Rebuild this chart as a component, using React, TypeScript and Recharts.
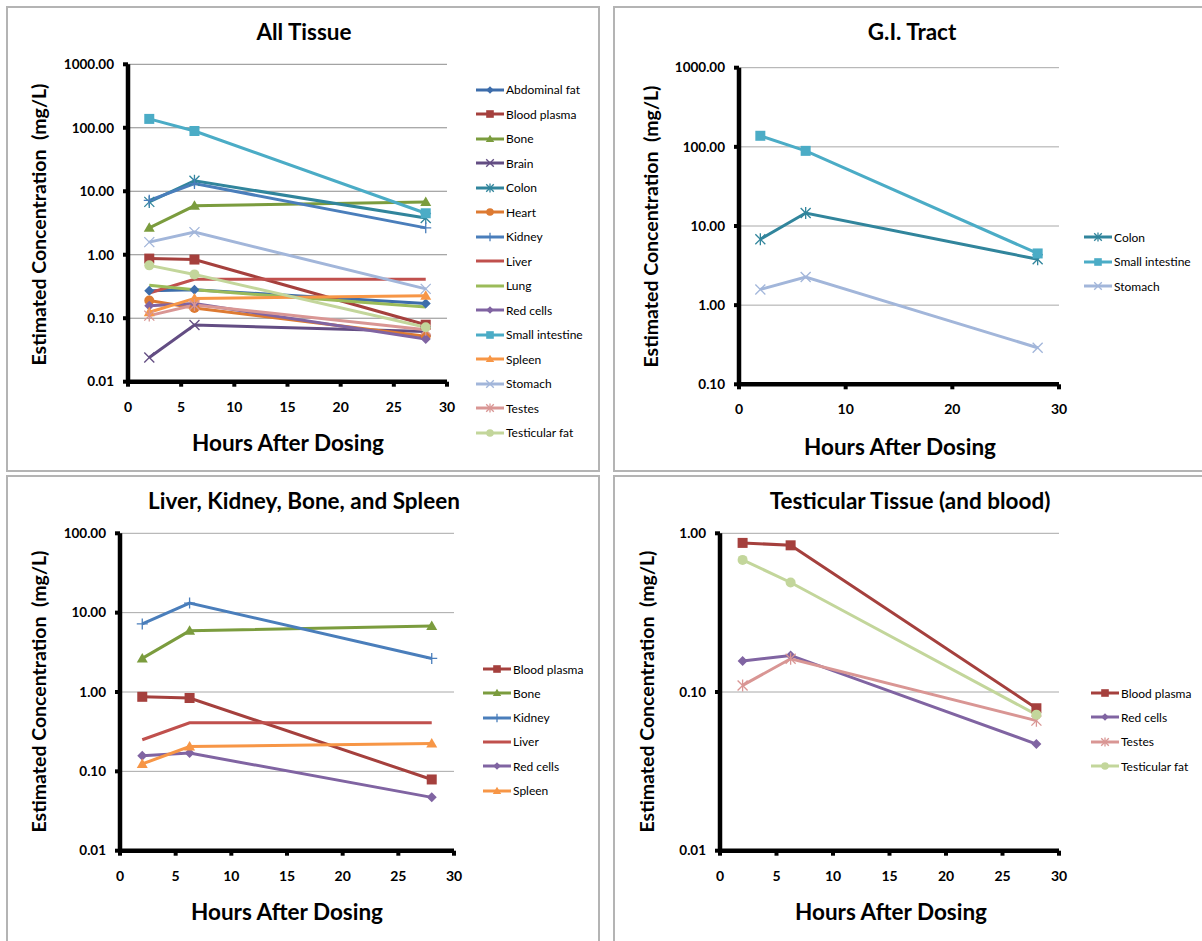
import React from "react";
import { LineChart, Line, XAxis, YAxis, CartesianGrid } from "recharts";

// sampling times (hours after dosing)
const HOURS = [2, 6.25, 28];

// estimated concentrations (mg/L) at each sampling time
const ABDOMINAL_FAT = [0.27, 0.28, 0.17];
const BLOOD_PLASMA = [0.87, 0.84, 0.079];
const BONE = [2.65, 5.9, 6.8];
const BRAIN = [0.024, 0.078, 0.062];
const COLON = [6.8, 14.6, 3.8];
const HEART = [0.19, 0.145, 0.052];
const KIDNEY = [7.2, 13.2, 2.65];
const LIVER = [0.25, 0.41, 0.41];
const LUNG = [0.33, 0.28, 0.15];
const RED_CELLS = [0.157, 0.17, 0.047];
const SMALL_INTESTINE = [138, 89, 4.5];
const SPLEEN = [0.124, 0.205, 0.225];
const STOMACH = [1.58, 2.27, 0.29];
const TESTES = [0.11, 0.162, 0.066];
const TESTICULAR_FAT = [0.68, 0.49, 0.072];

const X_TICKS_5 = [0, 5, 10, 15, 20, 25, 30];
const X_TICKS_10 = [0, 10, 20, 30];
const Y_TICKS_ALL = [0.01, 0.1, 1, 10, 100, 1000];
const Y_TICKS_GI = [0.1, 1, 10, 100, 1000];
const Y_TICKS_LIVER = [0.01, 0.1, 1, 10, 100];
const Y_TICKS_TEST = [0.01, 0.1, 1];

type Marker = "diamond" | "square" | "triangle" | "x" | "star" | "circle" | "plus" | "none";
type Series = { key: string; name: string; color: string; marker: Marker };

const S: Record<string, Series> = {
  abdominalFat: { key: "abdominalFat", name: "Abdominal fat", color: "#3d6dab", marker: "diamond" },
  bloodPlasma: { key: "bloodPlasma", name: "Blood plasma", color: "#a5403d", marker: "square" },
  bone: { key: "bone", name: "Bone", color: "#7b9c3e", marker: "triangle" },
  brain: { key: "brain", name: "Brain", color: "#634d83", marker: "x" },
  colon: { key: "colon", name: "Colon", color: "#31859c", marker: "star" },
  heart: { key: "heart", name: "Heart", color: "#dd7a32", marker: "circle" },
  kidney: { key: "kidney", name: "Kidney", color: "#4a7ebb", marker: "plus" },
  liver: { key: "liver", name: "Liver", color: "#c0504d", marker: "none" },
  lung: { key: "lung", name: "Lung", color: "#9bbb59", marker: "none" },
  redCells: { key: "redCells", name: "Red cells", color: "#8064a2", marker: "diamond" },
  smallIntestine: { key: "smallIntestine", name: "Small intestine", color: "#4bacc6", marker: "square" },
  spleen: { key: "spleen", name: "Spleen", color: "#f79646", marker: "triangle" },
  stomach: { key: "stomach", name: "Stomach", color: "#a2b6da", marker: "x" },
  testes: { key: "testes", name: "Testes", color: "#d99694", marker: "star" },
  testicularFat: { key: "testicularFat", name: "Testicular fat", color: "#c3d69b", marker: "circle" },
};

const rows = HOURS.map((hours, i) => ({
  hours,
  abdominalFat: ABDOMINAL_FAT[i],
  bloodPlasma: BLOOD_PLASMA[i],
  bone: BONE[i],
  brain: BRAIN[i],
  colon: COLON[i],
  heart: HEART[i],
  kidney: KIDNEY[i],
  liver: LIVER[i],
  lung: LUNG[i],
  redCells: RED_CELLS[i],
  smallIntestine: SMALL_INTESTINE[i],
  spleen: SPLEEN[i],
  stomach: STOMACH[i],
  testes: TESTES[i],
  testicularFat: TESTICULAR_FAT[i],
}));

const FONT = "Lato, 'Open Sans', sans-serif";

function MarkerShape({ kind, color, cx, cy, s = 5 }: { kind: Marker; color: string; cx: number; cy: number; s?: number }) {
  switch (kind) {
    case "diamond":
      return <path d={`M${cx},${cy - s} L${cx + s},${cy} L${cx},${cy + s} L${cx - s},${cy} Z`} fill={color} />;
    case "square":
      return <rect x={cx - s} y={cy - s} width={s * 2} height={s * 2} fill={color} />;
    case "triangle":
      return <path d={`M${cx},${cy - s * 1.1} L${cx + s * 1.1},${cy + s * 0.8} L${cx - s * 1.1},${cy + s * 0.8} Z`} fill={color} />;
    case "circle":
      return <circle cx={cx} cy={cy} r={s} fill={color} />;
    case "x":
      return (
        <g stroke={color} strokeWidth={1.3}>
          <line x1={cx - s} y1={cy - s} x2={cx + s} y2={cy + s} />
          <line x1={cx - s} y1={cy + s} x2={cx + s} y2={cy - s} />
        </g>
      );
    case "star":
      return (
        <g stroke={color} strokeWidth={1.3}>
          <line x1={cx - s} y1={cy - s} x2={cx + s} y2={cy + s} />
          <line x1={cx - s} y1={cy + s} x2={cx + s} y2={cy - s} />
          <line x1={cx} y1={cy - s * 1.2} x2={cx} y2={cy + s * 1.2} />
        </g>
      );
    case "plus":
      return (
        <g stroke={color} strokeWidth={1.3}>
          <line x1={cx - s * 1.1} y1={cy} x2={cx + s * 1.1} y2={cy} />
          <line x1={cx} y1={cy - s * 1.1} x2={cx} y2={cy + s * 1.1} />
        </g>
      );
    default:
      return null;
  }
}

type PanelProps = {
  box: { x: number; y: number; w: number; h: number };
  plot: { l: number; r: number; t: number; b: number };
  title: string;
  titleX: number;
  series: Series[];
  yDomain: [number, number];
  yTicks: number[];
  xTicks: number[];
  legend: { x: number; y: number; gap: number };
  xLabel: { x: number; y: number };
  yLabel: { x: number; y: number };
  grid: string;
};

const YAXIS_W = 60;
const XAXIS_H = 30;

function Panel(p: PanelProps) {
  const { box, plot } = p;
  const margin = {
    top: plot.t - box.y,
    bottom: box.y + box.h - plot.b - XAXIS_H,
    left: plot.l - box.x - YAXIS_W,
    right: box.x + box.w - plot.r,
  };
  return (
    <>
      <div
        style={{
          position: "absolute",
          left: box.x - 1,
          top: box.y - 1,
          width: box.w,
          height: box.h,
          border: "2px solid #b4b4b4",
          boxSizing: "border-box",
        }}
      />
      <div
        style={{
          position: "absolute",
          left: p.titleX - 250,
          width: 500,
          top: box.y + 11,
          textAlign: "center",
          fontFamily: FONT,
          fontWeight: 700,
          fontSize: 22.5,
          color: "#000",
        }}
      >
        {p.title}
      </div>
      <div style={{ position: "absolute", left: box.x, top: box.y }}>
        <LineChart width={box.w} height={box.h} data={rows} margin={margin}>
          <CartesianGrid vertical={false} stroke={p.grid} strokeWidth={1} />
          <XAxis
            type="number"
            dataKey="hours"
            domain={[0, 30]}
            ticks={p.xTicks}
            allowDataOverflow
            height={XAXIS_H}
            axisLine={{ stroke: "#000", strokeWidth: 4.5 }}
            tickLine={{ stroke: "#000", strokeWidth: 4 }}
            tickSize={5}
            tickMargin={15}
            tick={{ fill: "#000", fontSize: 14, fontWeight: 700, fontFamily: FONT }}
          />
          <YAxis
            type="number"
            scale="log"
            domain={p.yDomain}
            ticks={p.yTicks}
            allowDataOverflow
            width={YAXIS_W}
            axisLine={{ stroke: "#000", strokeWidth: 4.5 }}
            tickLine={{ stroke: "#000", strokeWidth: 4 }}
            tickSize={5}
            tickMargin={9}
            tickFormatter={(v: number) => v.toFixed(2)}
            tick={{ fill: "#000", fontSize: 13.5, fontWeight: 700, fontFamily: FONT }}
          />
          {p.series.map((s) => (
            <Line
              key={s.key}
              dataKey={s.key}
              name={s.name}
              type="linear"
              stroke={s.color}
              strokeWidth={3}
              isAnimationActive={false}
              activeDot={false}
              dot={
                s.marker === "none"
                  ? false
                  : (d: any) => <MarkerShape key={`${s.key}-${d.index}`} kind={s.marker} color={s.color} cx={d.cx} cy={d.cy} />
              }
            />
          ))}
        </LineChart>
      </div>
      <div
        style={{
          position: "absolute",
          left: p.xLabel.x - 200,
          width: 400,
          top: p.xLabel.y - 14,
          textAlign: "center",
          fontFamily: FONT,
          fontWeight: 700,
          fontSize: 22.5,
          color: "#000",
        }}
      >
        Hours After Dosing
      </div>
      <div
        style={{
          position: "absolute",
          left: p.yLabel.x - 200,
          top: p.yLabel.y - 12,
          width: 400,
          textAlign: "center",
          transform: "rotate(-90deg)",
          fontFamily: FONT,
          fontWeight: 700,
          fontSize: 19.5,
          color: "#000",
          whiteSpace: "nowrap",
        }}
      >
        Estimated Concentration &nbsp;(mg/L)
      </div>
      {p.series.map((s, i) => (
        <div
          key={s.key}
          style={{
            position: "absolute",
            left: p.legend.x,
            top: p.legend.y + i * p.legend.gap - 8,
            height: 16,
            display: "flex",
            alignItems: "center",
            fontFamily: FONT,
            fontSize: 12,
            color: "#000",
            whiteSpace: "nowrap",
          }}
        >
          <svg width={30} height={16} style={{ display: "block" }}>
            <line x1={0} y1={8} x2={28} y2={8} stroke={s.color} strokeWidth={3} />
            <MarkerShape kind={s.marker} color={s.color} cx={14} cy={8} s={3.8} />
          </svg>
          <span>{s.name}</span>
        </div>
      ))}
    </>
  );
}

export default function App() {
  return (
    <div
      style={{
        position: "absolute",
        left: 0,
        top: 0,
        width: 1202,
        height: 941,
        overflow: "hidden",
        background: "#fff",
      }}
    >
      <Panel
        box={{ x: 7, y: 7, w: 594, h: 466 }}
        plot={{ l: 128, r: 447, t: 64.3, b: 381.7 }}
        title="All Tissue"
        titleX={304}
        series={Object.values(S)}
        yDomain={[0.01, 1000]}
        yTicks={Y_TICKS_ALL}
        xTicks={X_TICKS_5}
        legend={{ x: 476, y: 89.5, gap: 24.5 }}
        xLabel={{ x: 288, y: 443 }}
        yLabel={{ x: 38, y: 225 }}
        grid="#8c8c8c"
      />
      <Panel
        box={{ x: 614, y: 7, w: 600, h: 466 }}
        plot={{ l: 739, r: 1059, t: 67.7, b: 384.3 }}
        title="G.I. Tract"
        titleX={912}
        series={[S.colon, S.smallIntestine, S.stomach]}
        yDomain={[0.1, 1000]}
        yTicks={Y_TICKS_GI}
        xTicks={X_TICKS_10}
        legend={{ x: 1084, y: 237, gap: 24.5 }}
        xLabel={{ x: 900, y: 447 }}
        yLabel={{ x: 650, y: 227 }}
        grid="#a8a8a8"
      />
      <Panel
        box={{ x: 7, y: 476, w: 594, h: 475 }}
        plot={{ l: 120, r: 454, t: 533.3, b: 850.7 }}
        title="Liver, Kidney, Bone, and Spleen"
        titleX={304}
        series={[S.bloodPlasma, S.bone, S.kidney, S.liver, S.redCells, S.spleen]}
        yDomain={[0.01, 100]}
        yTicks={Y_TICKS_LIVER}
        xTicks={X_TICKS_5}
        legend={{ x: 483, y: 669, gap: 24.3 }}
        xLabel={{ x: 287, y: 912 }}
        yLabel={{ x: 38, y: 692 }}
        grid="#a8a8a8"
      />
      <Panel
        box={{ x: 614, y: 476, w: 600, h: 475 }}
        plot={{ l: 720, r: 1059, t: 533.3, b: 850.7 }}
        title="Testicular Tissue (and blood)"
        titleX={910}
        series={[S.bloodPlasma, S.redCells, S.testes, S.testicularFat]}
        yDomain={[0.01, 1]}
        yTicks={Y_TICKS_TEST}
        xTicks={X_TICKS_5}
        legend={{ x: 1091, y: 693, gap: 24.4 }}
        xLabel={{ x: 891, y: 912 }}
        yLabel={{ x: 646, y: 692 }}
        grid="#a8a8a8"
      />
    </div>
  );
}
